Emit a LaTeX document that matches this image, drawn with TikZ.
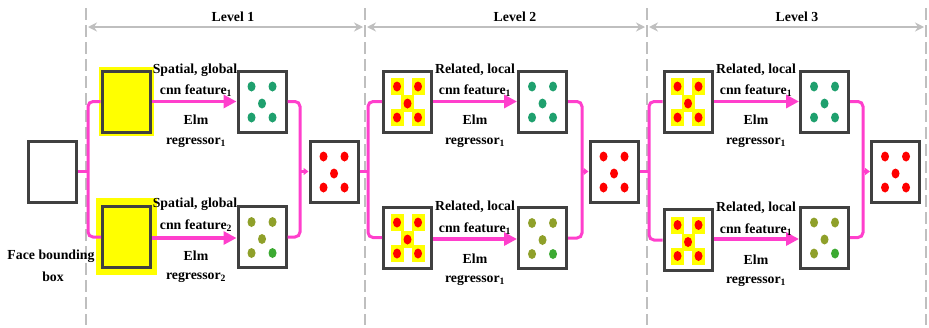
\documentclass[tikz,border=0pt]{standalone}
\usepackage{fontspec}
\setmainfont{Liberation Serif}
\usetikzlibrary{arrows.meta}
\definecolor{boxgray}{HTML}{404040}
\definecolor{linkpink}{HTML}{FF3FCC}
\definecolor{guidegray}{HTML}{BFBFBF}
\definecolor{dotteal}{HTML}{1FA06E}
\definecolor{dotolive}{HTML}{8FA02A}
\definecolor{dotgreen}{HTML}{3CAA32}
\definecolor{dotred}{HTML}{FF0000}
\definecolor{hiyellow}{HTML}{FFFF00}
\tikzset{
  % five dots laid out like the face of a die
  pics/dice/.style n args={5}{code={
    \fill[#1] (-10.5,-15) ellipse [x radius=4pt, y radius=5pt];
    \fill[#2] (10.5,-15) ellipse [x radius=4pt, y radius=5pt];
    \fill[#3] (0,2) ellipse [x radius=4pt, y radius=5pt];
    \fill[#4] (-10.5,16) ellipse [x radius=4pt, y radius=5pt];
    \fill[#5] (10.5,16) ellipse [x radius=4pt, y radius=5pt];
  }},
  % red landmarks, each on a yellow patch
  pics/patched/.style={code={
    \foreach \px/\py in {-10.5/-15, 10.5/-15, 0/2, -10.5/16, 10.5/16}
      \fill[hiyellow] (\px-6.5,\py-8.5) rectangle (\px+6.5,\py+8.5);
    \foreach \px/\py in {-10.5/-15, 10.5/-15, 0/2, -10.5/16, 10.5/16}
      \fill[dotred] (\px,\py) ellipse [x radius=4pt, y radius=5pt];
  }}
}
\begin{document}
\begin{tikzpicture}[x=1pt,y=-1pt,
  frame/.style={draw=boxgray, line width=3pt, minimum width=48pt, minimum height=61pt, inner sep=0pt, fill=white},
  txt/.style={font=\fontsize{13.8}{16}\selectfont\bfseries, inner sep=0pt, anchor=base},
  link/.style={draw=linkpink, line width=3pt, rounded corners=5pt},
  feed/.style={draw=linkpink, line width=3.5pt, -{Triangle[length=13pt,width=13pt]}},
  joinarrow/.style={draw=linkpink, line width=3pt, -{Triangle[length=5pt,width=7pt]}},
  guide/.style={draw=guidegray, line width=2pt, dash pattern=on 12pt off 5pt},
  levelspan/.style={draw=guidegray, line width=1.5pt, {Stealth[length=9pt,width=9pt,inset=3pt]}-{Stealth[length=9pt,width=9pt,inset=3pt]}}
]
\useasboundingbox (0,0) rectangle (929,327);

% level separators
\foreach \gx [count=\gi] in {86,365,647,926} {
  \coordinate (gt\gi) at (\gx,8);
  \coordinate (gb\gi) at (\gx,325);
  \draw[guide] (gt\gi) -- (gb\gi);
}
\coordinate (a1l) at (88,27);  \coordinate (a1r) at (363,27);
\coordinate (a2l) at (367,27); \coordinate (a2r) at (645,27);
\coordinate (a3l) at (649,27); \coordinate (a3r) at (924,27);
\draw[levelspan] (a1l) -- (a1r);
\draw[levelspan] (a2l) -- (a2r);
\draw[levelspan] (a3l) -- (a3r);
\node[txt] (lev1) at (233,21) {Level 1};
\node[txt] (lev2) at (515,21) {Level 2};
\node[txt] (lev3) at (797,21) {Level 3};

% input
\node[frame] (face) at (52,171.5) {};
\node[txt, align=center] (facecap) at (51,259) {Face bounding};
\node[txt] (facecap2) at (53,281) {box};

% level 1
\fill[hiyellow] (99,67) rectangle (154,136);
\fill[hiyellow] (96,198) rectangle (157,275);
\node[frame, fill=hiyellow] (l1a) at (126,101.5) {};
\node[frame, fill=hiyellow] (l1b) at (126.5,237) {};
\node[frame] (f1a) at (262,101.5) {};
\node[frame] (f1b) at (262,237) {};
\node[frame] (m1) at (334,171.5) {};

% level 2
\node[frame] (l2a) at (407.5,101.5) {};
\node[frame] (l2b) at (407.5,237.5) {};
\node[frame] (f2a) at (542.5,101.5) {};
\node[frame] (f2b) at (542.5,238) {};
\node[frame] (m2) at (614,171.5) {};

% level 3
\node[frame] (l3a) at (688,101.5) {};
\node[frame] (l3b) at (688,240) {};
\node[frame] (f3a) at (824.5,101.5) {};
\node[frame] (f3b) at (824.5,237.5) {};
\node[frame] (m3) at (895.5,171.5) {};

% dots
\foreach \n in {f1a,f2a,f3a}
  \pic at (\n) {dice={dotteal}{dotteal}{dotteal}{dotteal}{dotteal}};
\foreach \n in {f1b,f2b,f3b}
  \pic at (\n) {dice={dotolive}{dotolive}{dotolive}{dotolive}{dotgreen}};
\foreach \n in {m1,m2,m3}
  \pic at (\n) {dice={dotred}{dotred}{dotred}{dotred}{dotred}};
\foreach \n in {l2a,l2b,l3a,l3b}
  \pic at (\n) {patched};

% split and merge points
\coordinate (s1) at (88,171.5);  \coordinate (c1) at (300,171.5);
\coordinate (s2) at (368,171.5); \coordinate (c2) at (582,171.5);
\coordinate (s3) at (649,171.5); \coordinate (c3) at (863,171.5);

\draw[link] (face.east) -- (s1);
\draw[link] (l1a.west) -| (s1) |- (l1b.west);
\draw[link] (f1a.east) -| (c1) |- (f1b.east);
\draw[joinarrow] (c1) -- (m1.west);
\draw[link] (m1.east) -- (s2);
\draw[link] (l2a.west) -| (s2) |- (l2b.west);
\draw[link] (f2a.east) -| (c2) |- (f2b.east);
\draw[joinarrow] (c2) -- (m2.west);
\draw[link] (m2.east) -- (s3);
\draw[link] (l3a.west) -| (s3) |- (l3b.west);
\draw[link] (f3a.east) -| (c3) |- (f3b.east);
\draw[joinarrow] (c3) -- (m3.west);

% regressor arrows
\draw[feed] (l1a.east) -- (f1a.west);
\draw[feed] (l1b.east |- 0,238) -- (f1b.west |- 0,238);
\draw[feed] (l2a.east) -- (f2a.west);
\draw[feed] (l2b.east |- 0,239) -- (f2b.west |- 0,239);
\draw[feed] (l3a.east) -- (f3a.west);
\draw[feed] (l3b.east |- 0,239) -- (f3b.west |- 0,239);

% level 1 labels
\node[txt] (t1a1) at (195,73) {Spatial, global};
\node[txt] (t1a2) at (196,94) {cnn feature\textsubscript{1}};
\node[txt] (t1a3) at (196,124) {Elm};
\node[txt] (t1a4) at (196,144) {regressor\textsubscript{1}};
\node[txt] (t1b1) at (195,207) {Spatial, global};
\node[txt] (t1b2) at (196,229) {cnn feature\textsubscript{2}};
\node[txt] (t1b3) at (196,260) {Elm};
\node[txt] (t1b4) at (196,279) {regressor\textsubscript{2}};

% level 2 labels
\node[txt] (t2a1) at (475,73) {Related, local};
\node[txt] (t2a2) at (475,94) {cnn feature\textsubscript{1}};
\node[txt] (t2a3) at (475,124) {Elm};
\node[txt] (t2a4) at (475,144) {regressor\textsubscript{1}};
\node[txt] (t2b1) at (475,210) {Related, local};
\node[txt] (t2b2) at (475,232) {cnn feature\textsubscript{1}};
\node[txt] (t2b3) at (475,263) {Elm};
\node[txt] (t2b4) at (475,282) {regressor\textsubscript{1}};

% level 3 labels
\node[txt] (t3a1) at (756,73) {Related, local};
\node[txt] (t3a2) at (756,94) {cnn feature\textsubscript{1}};
\node[txt] (t3a3) at (756,124) {Elm};
\node[txt] (t3a4) at (756,144) {regressor\textsubscript{1}};
\node[txt] (t3b1) at (756,211) {Related, local};
\node[txt] (t3b2) at (756,233) {cnn feature\textsubscript{1}};
\node[txt] (t3b3) at (756,264) {Elm};
\node[txt] (t3b4) at (756,283) {regressor\textsubscript{1}};
\end{tikzpicture}
\end{document}
